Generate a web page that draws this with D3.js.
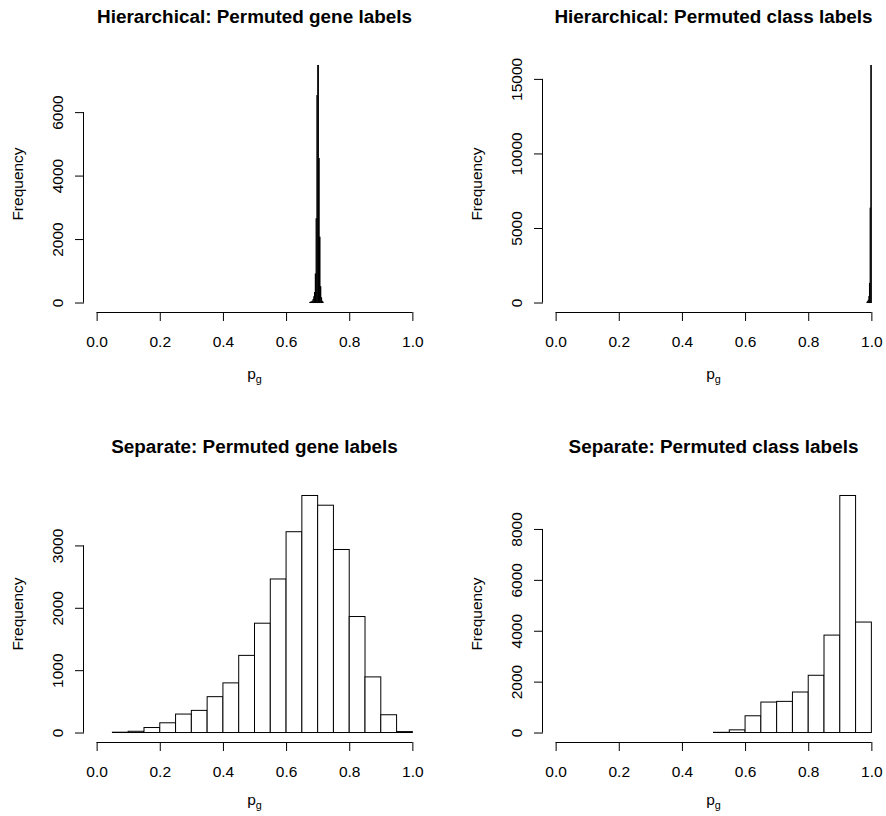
<!DOCTYPE html>
<html>
<head>
<meta charset="utf-8">
<script src="https://cdn.jsdelivr.net/npm/d3@7"></script>
<style>
  body { margin: 0; background: #fff; }
  svg { display: block; }
  text { font-family: 'Liberation Sans', Arial, Helvetica, sans-serif; fill: #000; }
</style>
</head>
<body>
<script>
// ---------- DATA ----------
const titles = [
  "Hierarchical: Permuted gene labels",
  "Hierarchical: Permuted class labels",
  "Separate: Permuted gene labels",
  "Separate: Permuted class labels"
];

// Histogram bin edges and counts, one pair per panel
const hierGeneBreaks = [0.675, 0.6775, 0.68, 0.6825, 0.685, 0.6875, 0.69, 0.6925, 0.695,
                        0.6975, 0.70, 0.7025, 0.705, 0.7075, 0.71, 0.7125, 0.715, 0.7175];
const hierGeneCounts = [5, 10, 20, 40, 90, 180, 316, 900, 2640, 6520, 7470, 4540, 2060, 500, 150, 40, 10];

const hierClassBreaks = [0.986, 0.988, 0.990, 0.992, 0.994, 0.996, 0.998, 1.000];
const hierClassCounts = [20, 60, 150, 400, 1280, 6330, 15900];

const sepGeneBreaks = [0.05, 0.10, 0.15, 0.20, 0.25, 0.30, 0.35, 0.40, 0.45, 0.50,
                       0.55, 0.60, 0.65, 0.70, 0.75, 0.80, 0.85, 0.90, 0.95, 1.00];
const sepGeneCounts = [5, 20, 80, 156, 296, 355, 575, 796, 1237, 1753,
                       2462, 3220, 3801, 3645, 2935, 1860, 892, 285, 15];

const sepClassBreaks = [0.50, 0.55, 0.60, 0.65, 0.70, 0.75, 0.80, 0.85, 0.90, 0.95, 1.00];
const sepClassCounts = [8, 105, 658, 1197, 1224, 1592, 2250, 3829, 9316, 4342];

// Tick labels
const xTicks = [0, 0.2, 0.4, 0.6, 0.8, 1.0];
const hierGeneYTicks = [0, 2000, 4000, 6000];
const hierClassYTicks = [0, 5000, 10000, 15000];
const sepGeneYTicks = [0, 1000, 2000, 3000];
const sepClassYTicks = [0, 2000, 4000, 6000, 8000];

const xLabel = "p";
const xLabelSub = "g";
const yLabel = "Frequency";

// ---------- LAYOUT ----------
const W = 886, H = 816;
const plotW = 341, plotH = 256;
const panels = [
  { left: 84,  top: 56,  breaks: hierGeneBreaks,  counts: hierGeneCounts,  yTicks: hierGeneYTicks,  title: titles[0], xlabOff: 67 },
  { left: 543, top: 56,  breaks: hierClassBreaks, counts: hierClassCounts, yTicks: hierClassYTicks, title: titles[1], xlabOff: 67 },
  { left: 84,  top: 486, breaks: sepGeneBreaks,   counts: sepGeneCounts,   yTicks: sepGeneYTicks,   title: titles[2], xlabOff: 63 },
  { left: 543, top: 486, breaks: sepClassBreaks,  counts: sepClassCounts,  yTicks: sepClassYTicks,  title: titles[3], xlabOff: 63 }
];

const axisFont = 15.5;
const titleFont = 18.9;

const svg = d3.select("body").append("svg")
  .attr("width", W).attr("height", H)
  .attr("viewBox", `0 0 ${W} ${H}`);

svg.append("rect").attr("width", W).attr("height", H).attr("fill", "#fff");

panels.forEach(p => {
  const g = svg.append("g");
  const x = d3.scaleLinear().domain([-0.04, 1.04]).range([p.left, p.left + plotW]);
  const ymax = d3.max(p.counts);
  const y = d3.scaleLinear().domain([-0.04 * ymax, 1.04 * ymax]).range([p.top + plotH, p.top]);

  const bins = p.counts.map((c, i) => ({ x0: p.breaks[i], x1: p.breaks[i + 1], c }));

  // Bars
  g.append("g").selectAll("rect").data(bins).join("rect")
    .attr("x", d => x(d.x0))
    .attr("width", d => Math.max(0.01, x(d.x1) - x(d.x0)))
    .attr("y", d => y(d.c))
    .attr("height", d => y(0) - y(d.c))
    .attr("fill", "#fff")
    .attr("stroke", "#000")
    .attr("stroke-width", 1);

  // X axis
  const xAxisY = p.top + plotH;
  const xa = g.append("g").attr("transform", `translate(0,${xAxisY})`)
    .call(d3.axisBottom(x).tickValues(xTicks).tickSize(9).tickFormat(d3.format(".1f")));
  xa.select(".domain").remove();
  xa.selectAll(".tick line").attr("stroke", "#000").attr("stroke-width", 1);
  xa.selectAll(".tick text")
    .attr("y", 35).attr("dy", 0)
    .attr("font-size", axisFont)
    .attr("font-family", "'Liberation Sans', Arial, Helvetica, sans-serif")
    .attr("fill", "#000");
  xa.append("line")
    .attr("x1", x(xTicks[0])).attr("x2", x(xTicks[xTicks.length - 1]))
    .attr("y1", 0.5).attr("y2", 0.5)
    .attr("stroke", "#000").attr("stroke-width", 1);

  // Y axis
  const ya = g.append("g").attr("transform", `translate(${p.left},0)`)
    .call(d3.axisLeft(y).tickValues(p.yTicks).tickSize(9).tickFormat(d3.format("d")));
  ya.select(".domain").remove();
  ya.selectAll(".tick line").attr("stroke", "#000").attr("stroke-width", 1);
  ya.selectAll(".tick text")
    .attr("transform", "rotate(-90)")
    .attr("x", 0).attr("y", -21).attr("dy", 0)
    .attr("text-anchor", "middle")
    .attr("font-size", axisFont)
    .attr("font-family", "'Liberation Sans', Arial, Helvetica, sans-serif")
    .attr("fill", "#000");
  ya.append("line")
    .attr("x1", -0.5).attr("x2", -0.5)
    .attr("y1", y(p.yTicks[0])).attr("y2", y(p.yTicks[p.yTicks.length - 1]))
    .attr("stroke", "#000").attr("stroke-width", 1);

  // Title
  const cx = p.left + plotW / 2;
  g.append("text")
    .attr("x", cx).attr("y", p.top - 32.7)
    .attr("text-anchor", "middle")
    .attr("font-size", titleFont)
    .attr("font-weight", "bold")
    .text(p.title);

  // Y label
  g.append("text")
    .attr("transform", `translate(${p.left - 61},${p.top + plotH / 2}) rotate(-90)`)
    .attr("text-anchor", "middle")
    .attr("font-size", axisFont)
    .text(yLabel);

  // X label with subscript
  const xl = g.append("text")
    .attr("x", cx).attr("y", xAxisY + p.xlabOff)
    .attr("text-anchor", "middle")
    .attr("font-size", axisFont);
  xl.append("tspan").text(xLabel);
  xl.append("tspan").attr("dy", 4).attr("font-size", axisFont * 0.7).text(xLabelSub);
});
</script>
</body>
</html>
